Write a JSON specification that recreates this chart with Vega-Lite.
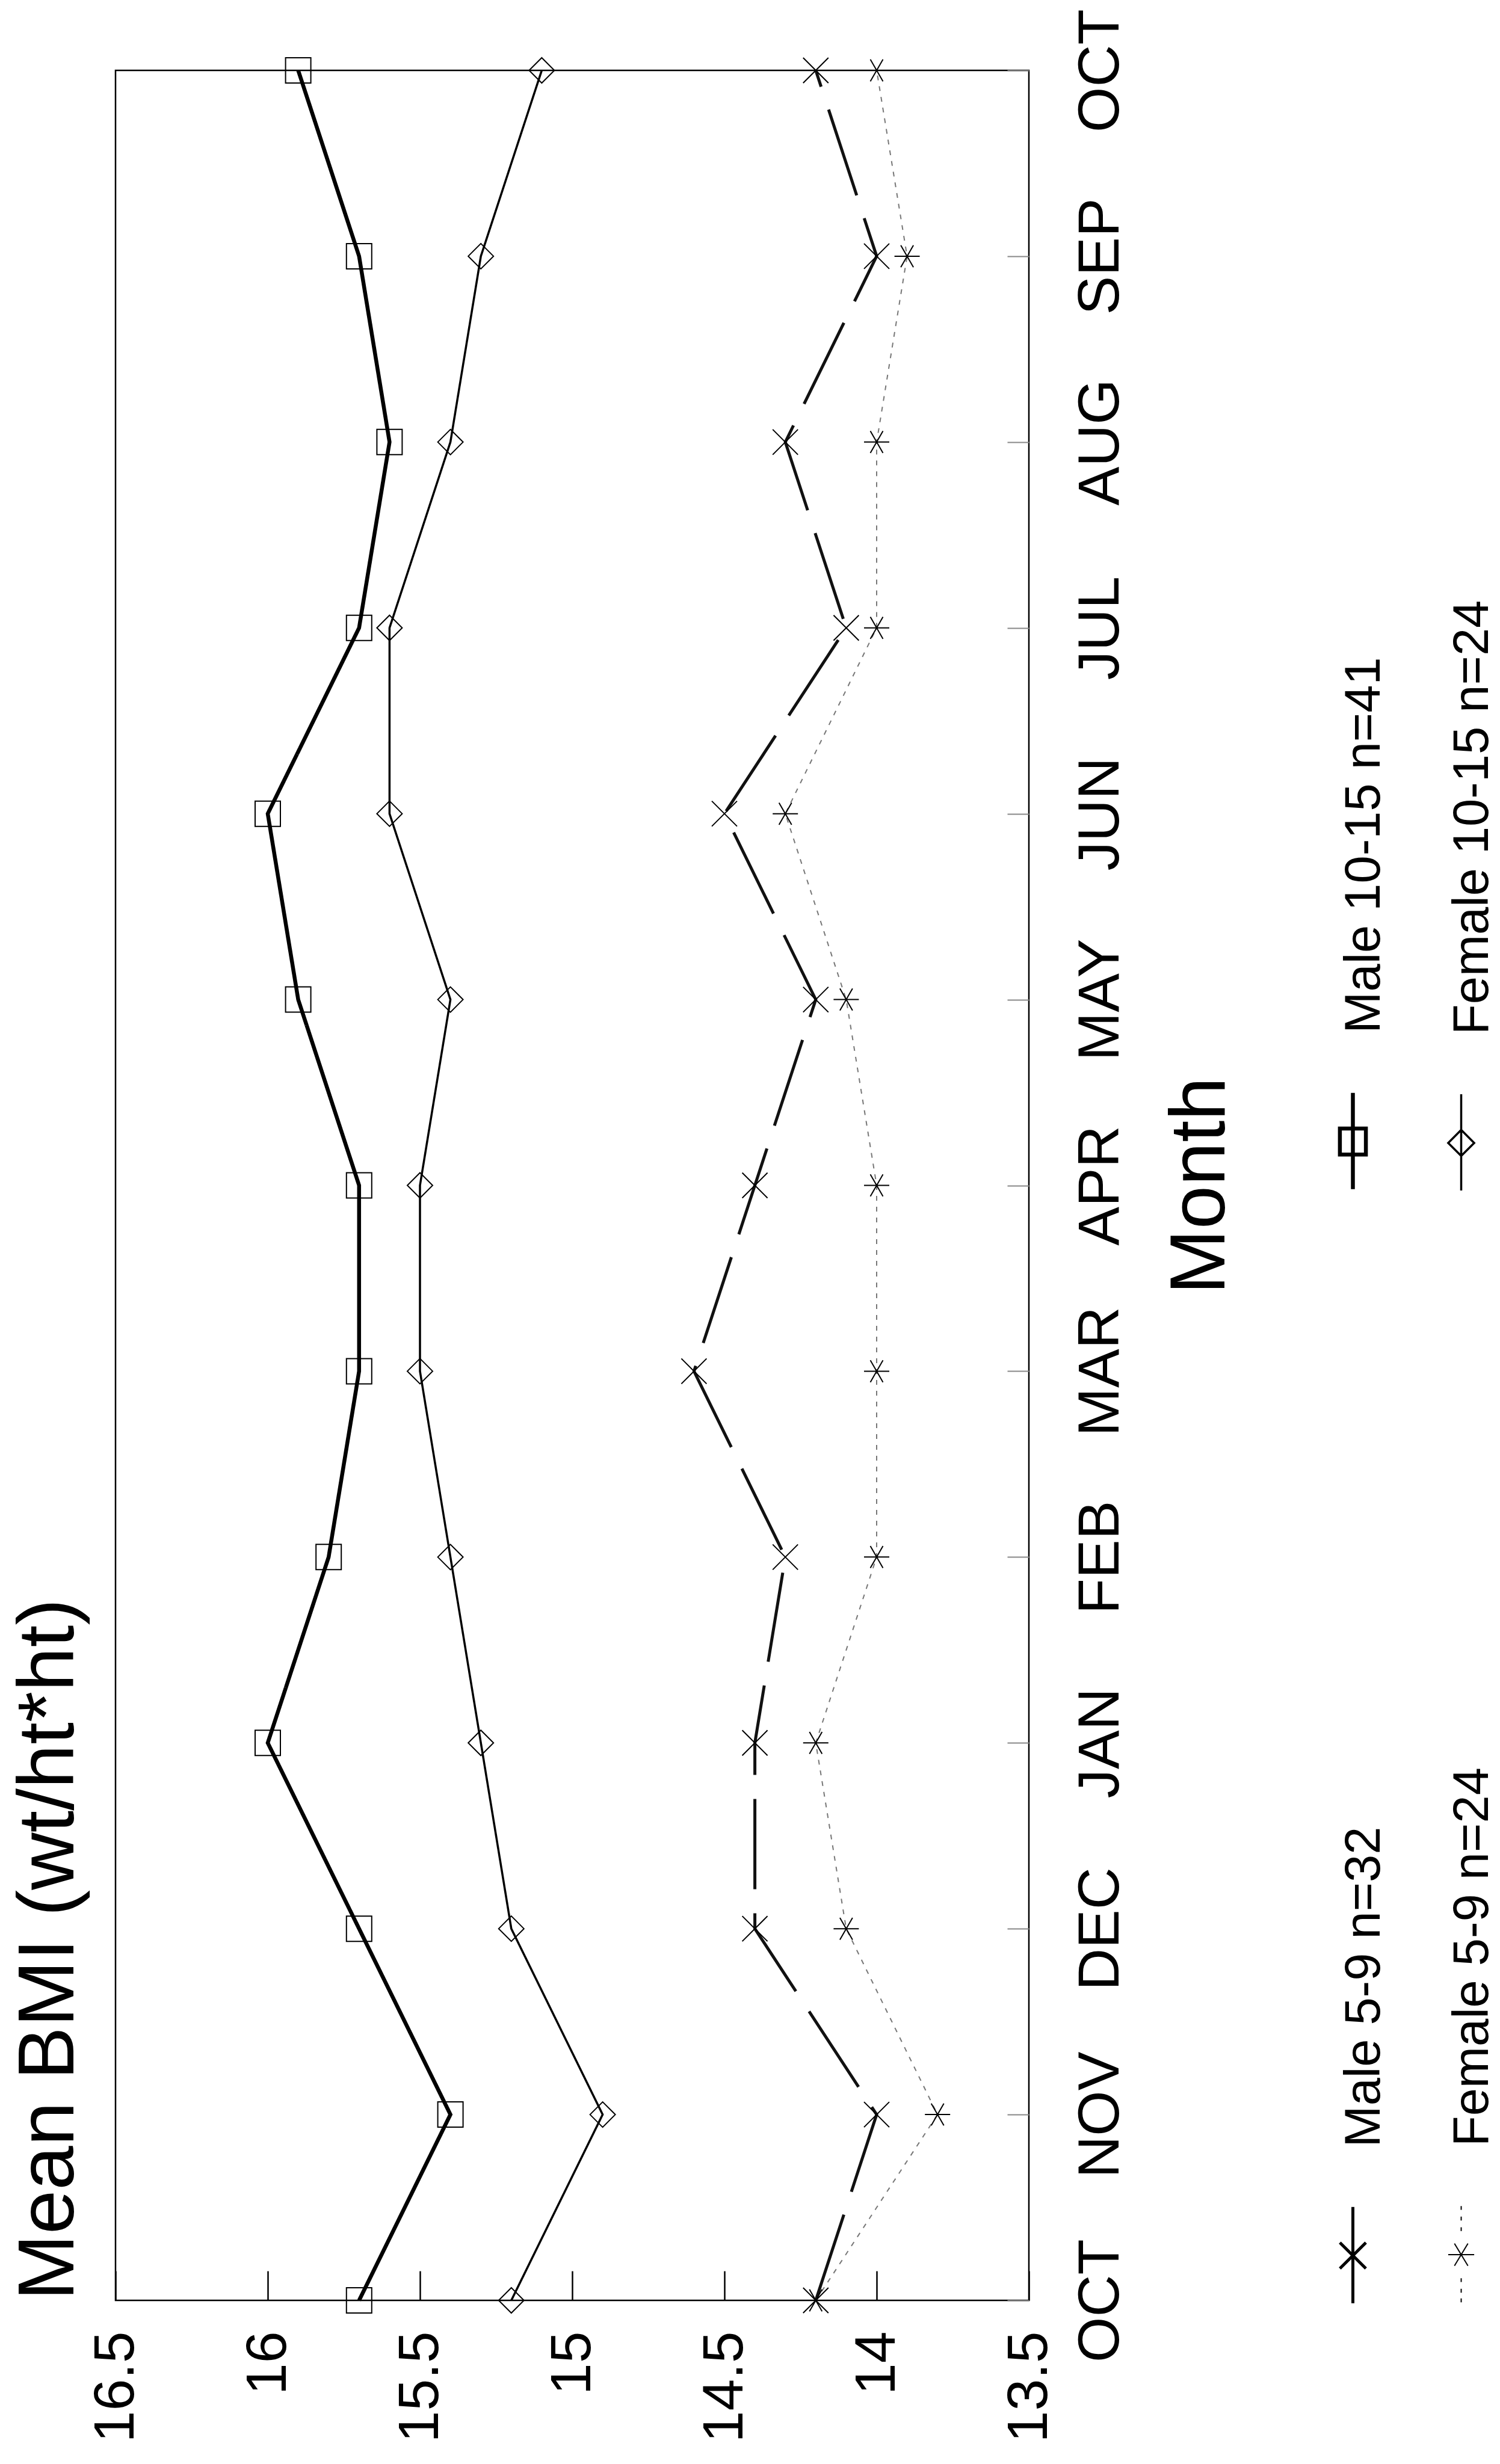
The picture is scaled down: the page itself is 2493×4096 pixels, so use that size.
{
  "$schema": "https://vega.github.io/schema/vega-lite/v6.json",
  "width": 1518,
  "height": 3707,
  "autosize": {"type": "none"},
  "padding": {"left": 192, "top": 117, "right": 783, "bottom": 272},
  "background": "white",
  "config": {
    "view": {"stroke": "black", "strokeWidth": 2.5},
    "font": "Liberation Sans"
  },
  "title": {
    "text": "Mean BMI (wt/ht*ht)",
    "orient": "left",
    "anchor": "start",
    "frame": "group",
    "offset": -5,
    "fontSize": 132,
    "font": "Liberation Sans",
    "fontWeight": "normal",
    "color": "black"
  },
  "data": {
    "values": [
      {"m": 0, "month": "OCT", "series": "Male 10-15 n=41", "bmi": 15.7},
      {"m": 1, "month": "NOV", "series": "Male 10-15 n=41", "bmi": 15.4},
      {"m": 2, "month": "DEC", "series": "Male 10-15 n=41", "bmi": 15.7},
      {"m": 3, "month": "JAN", "series": "Male 10-15 n=41", "bmi": 16.0},
      {"m": 4, "month": "FEB", "series": "Male 10-15 n=41", "bmi": 15.8},
      {"m": 5, "month": "MAR", "series": "Male 10-15 n=41", "bmi": 15.7},
      {"m": 6, "month": "APR", "series": "Male 10-15 n=41", "bmi": 15.7},
      {"m": 7, "month": "MAY", "series": "Male 10-15 n=41", "bmi": 15.9},
      {"m": 8, "month": "JUN", "series": "Male 10-15 n=41", "bmi": 16.0},
      {"m": 9, "month": "JUL", "series": "Male 10-15 n=41", "bmi": 15.7},
      {"m": 10, "month": "AUG", "series": "Male 10-15 n=41", "bmi": 15.6},
      {"m": 11, "month": "SEP", "series": "Male 10-15 n=41", "bmi": 15.7},
      {"m": 12, "month": "OCT", "series": "Male 10-15 n=41", "bmi": 15.9},
      {"m": 0, "month": "OCT", "series": "Female 10-15 n=24", "bmi": 15.2},
      {"m": 1, "month": "NOV", "series": "Female 10-15 n=24", "bmi": 14.9},
      {"m": 2, "month": "DEC", "series": "Female 10-15 n=24", "bmi": 15.2},
      {"m": 3, "month": "JAN", "series": "Female 10-15 n=24", "bmi": 15.3},
      {"m": 4, "month": "FEB", "series": "Female 10-15 n=24", "bmi": 15.4},
      {"m": 5, "month": "MAR", "series": "Female 10-15 n=24", "bmi": 15.5},
      {"m": 6, "month": "APR", "series": "Female 10-15 n=24", "bmi": 15.5},
      {"m": 7, "month": "MAY", "series": "Female 10-15 n=24", "bmi": 15.4},
      {"m": 8, "month": "JUN", "series": "Female 10-15 n=24", "bmi": 15.6},
      {"m": 9, "month": "JUL", "series": "Female 10-15 n=24", "bmi": 15.6},
      {"m": 10, "month": "AUG", "series": "Female 10-15 n=24", "bmi": 15.4},
      {"m": 11, "month": "SEP", "series": "Female 10-15 n=24", "bmi": 15.3},
      {"m": 12, "month": "OCT", "series": "Female 10-15 n=24", "bmi": 15.1},
      {"m": 0, "month": "OCT", "series": "Male 5-9 n=32", "bmi": 14.2},
      {"m": 1, "month": "NOV", "series": "Male 5-9 n=32", "bmi": 14.0},
      {"m": 2, "month": "DEC", "series": "Male 5-9 n=32", "bmi": 14.4},
      {"m": 3, "month": "JAN", "series": "Male 5-9 n=32", "bmi": 14.4},
      {"m": 4, "month": "FEB", "series": "Male 5-9 n=32", "bmi": 14.3},
      {"m": 5, "month": "MAR", "series": "Male 5-9 n=32", "bmi": 14.6},
      {"m": 6, "month": "APR", "series": "Male 5-9 n=32", "bmi": 14.4},
      {"m": 7, "month": "MAY", "series": "Male 5-9 n=32", "bmi": 14.2},
      {"m": 8, "month": "JUN", "series": "Male 5-9 n=32", "bmi": 14.5},
      {"m": 9, "month": "JUL", "series": "Male 5-9 n=32", "bmi": 14.1},
      {"m": 10, "month": "AUG", "series": "Male 5-9 n=32", "bmi": 14.3},
      {"m": 11, "month": "SEP", "series": "Male 5-9 n=32", "bmi": 14.0},
      {"m": 12, "month": "OCT", "series": "Male 5-9 n=32", "bmi": 14.2},
      {"m": 0, "month": "OCT", "series": "Female 5-9 n=24", "bmi": 14.2},
      {"m": 1, "month": "NOV", "series": "Female 5-9 n=24", "bmi": 13.8},
      {"m": 2, "month": "DEC", "series": "Female 5-9 n=24", "bmi": 14.1},
      {"m": 3, "month": "JAN", "series": "Female 5-9 n=24", "bmi": 14.2},
      {"m": 4, "month": "FEB", "series": "Female 5-9 n=24", "bmi": 14.0},
      {"m": 5, "month": "MAR", "series": "Female 5-9 n=24", "bmi": 14.0},
      {"m": 6, "month": "APR", "series": "Female 5-9 n=24", "bmi": 14.0},
      {"m": 7, "month": "MAY", "series": "Female 5-9 n=24", "bmi": 14.1},
      {"m": 8, "month": "JUN", "series": "Female 5-9 n=24", "bmi": 14.3},
      {"m": 9, "month": "JUL", "series": "Female 5-9 n=24", "bmi": 14.0},
      {"m": 10, "month": "AUG", "series": "Female 5-9 n=24", "bmi": 14.0},
      {"m": 11, "month": "SEP", "series": "Female 5-9 n=24", "bmi": 13.9},
      {"m": 12, "month": "OCT", "series": "Female 5-9 n=24", "bmi": 14.0}
    ]
  },
  "encoding": {
    "x": {
      "field": "bmi",
      "type": "quantitative",
      "scale": {"domain": [13.5, 16.5], "reverse": true, "nice": false, "zero": false},
      "axis": {
        "orient": "bottom",
        "values": [13.5, 14, 14.5, 15, 15.5, 16, 16.5],
        "format": "~g",
        "labelAngle": -90,
        "labelAlign": "right",
        "labelBaseline": "middle",
        "labelFontSize": 95,
        "labelFont": "Liberation Sans",
        "labelColor": "black",
        "labelPadding": 100,
        "labelLimit": 2000,
        "labelFlush": false,
        "labelOverlap": false,
        "tickSize": -49,
        "tickWidth": 2.5,
        "tickColor": "black",
        "domain": false,
        "grid": false,
        "title": null
      }
    },
    "y": {
      "field": "m",
      "type": "quantitative",
      "scale": {"domain": [0, 12], "nice": false, "zero": false},
      "axis": {
        "orient": "right",
        "values": [0, 1, 2, 3, 4, 5, 6, 7, 8, 9, 10, 11, 12],
        "labelExpr": "['OCT','NOV','DEC','JAN','FEB','MAR','APR','MAY','JUN','JUL','AUG','SEP','OCT'][datum.value]",
        "labelAngle": -90,
        "labelAlign": "center",
        "labelBaseline": "top",
        "labelFontSize": 97,
        "labelFont": "Liberation Sans",
        "labelColor": "black",
        "labelPadding": 107,
        "labelLimit": 2000,
        "labelFlush": false,
        "labelOverlap": false,
        "tickSize": -36,
        "tickWidth": 2,
        "tickColor": "#888888",
        "domain": false,
        "grid": false,
        "title": "Month",
        "titleAngle": -90,
        "titleBaseline": "top",
        "titleFontSize": 130,
        "titleFont": "Liberation Sans",
        "titleFontWeight": "normal",
        "titleColor": "black",
        "titlePadding": 54
      }
    }
  },
  "layer": [
    {
      "mark": {"type": "line"},
      "encoding": {
        "order": {"field": "m", "type": "quantitative"},
        "strokeDash": {
          "field": "series",
          "type": "nominal",
          "scale": {
            "domain": ["Female 10-15 n=24", "Female 5-9 n=24", "Male 10-15 n=41", "Male 5-9 n=32"],
            "range": [[1, 0], [8, 10], [1, 0], [150, 40]]
          },
          "legend": null
        },
        "stroke": {
          "field": "series",
          "type": "nominal",
          "scale": {
            "domain": ["Female 10-15 n=24", "Female 5-9 n=24", "Male 10-15 n=41", "Male 5-9 n=32"],
            "range": ["#000000", "#777777", "#000000", "#111111"]
          },
          "legend": null
        },
        "strokeWidth": {
          "field": "series",
          "type": "nominal",
          "scale": {
            "domain": ["Male 10-15 n=41", "Male 5-9 n=32", "Female 10-15 n=24", "Female 5-9 n=24"],
            "range": [6.5, 2, 2, 2]
          },
          "legend": {
            "title": null,
            "orient": "none",
            "direction": "vertical",
            "legendX": 1973,
            "legendY": 1517,
            "columns": 2,
            "padding": 0,
            "rowPadding": 801,
            "columnPadding": 34,
            "gridAlign": "each",
            "labelFont": "Liberation Sans",
            "labelFontSize": 83,
            "labelColor": "black",
            "labelLimit": 3000,
            "labelOffset": -64,
            "labelAlign": "left",
            "labelBaseline": "middle",
            "symbolSize": 25600,
            "symbolStrokeColor": "black",
            "symbolFillColor": "transparent",
            "encode": {
              "symbols": {
                "update": {
                  "shape": {"signal": "datum.value == 'Male 10-15 n=41' ? 'M0,-9.6M0,1.24L0,3.24M-0.27,1.98L0.27,1.98L0.27,2.52L-0.27,2.52Z' : datum.value == 'Female 10-15 n=24' ? 'M0,-9.6M0,1.24L0,3.24M-0.27,2.25L0,1.98L0.27,2.25L0,2.52Z' : datum.value == 'Male 5-9 n=32' ? 'M0,-9.6M0,1.24L0,3.24M-0.27,1.98L0.27,2.52M-0.27,2.52L0.27,1.98' : 'M0,-9.6M0,1.24L0,1.32M0,1.46L0,1.54M0,1.68L0,1.76M0,2.74L0,2.82M0,2.96L0,3.04M0,3.16L0,3.24M-0.27,2.25L0.27,2.25M-0.14,2.02L0.14,2.48M-0.14,2.48L0.14,2.02'"},
                  "stroke": {"value": "black"},
                  "fill": {"value": "transparent"},
                  "opacity": {"value": 1},
                  "size": {"value": 25600}
                }
              },
              "labels": {
                "update": {
                  "angle": {"value": -90},
                  "align": {"value": "left"},
                  "baseline": {"value": "middle"}
                }
              }
            }
          }
        }
      }
    },
    {
      "mark": {"type": "point", "filled": false, "size": 1764, "strokeWidth": 2, "stroke": "black", "opacity": 1},
      "encoding": {
        "shape": {
          "field": "series",
          "type": "nominal",
          "scale": {
            "domain": ["Female 10-15 n=24", "Female 5-9 n=24", "Male 10-15 n=41", "Male 5-9 n=32"],
            "range": ["diamond", "M-1,0L1,0M-0.5,-0.87L0.5,0.87M-0.5,0.87L0.5,-0.87", "square", "M-1,-1L1,1M-1,1L1,-1"]
          },
          "legend": null
        }
      }
    }
  ]
}
